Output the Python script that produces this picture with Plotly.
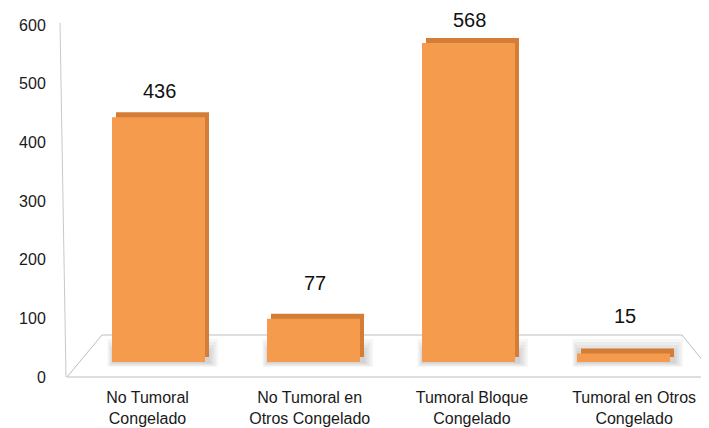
import plotly.graph_objects as go

categories = ["No Tumoral<br>Congelado", "No Tumoral en<br>Otros Congelado",
              "Tumoral Bloque<br>Congelado", "Tumoral en Otros<br>Congelado"]
values = [436, 77, 568, 15]
y_ticks = [0, 100, 200, 300, 400, 500, 600]

# target layout in screenshot pixels; the page body adds an 8px margin
OFF = 8
W, H = 709 - OFF, 428 - OFF
L, T, B = 62 - OFF, 25 - OFF, 428 - 377
R = 0
PW, PH = W - L - R, H - T - B

def px(x, y):
    # screenshot pixel -> paper coords
    return (x - OFF - L) / PW, (H - B - (y - OFF)) / PH

# bar front faces: value 0 at pixel 362, 568 at pixel 43
scale = (362 - 43) / 568
front_range = [-(377 - 362) / scale, (362 - 25) / scale]
depth = 5 / scale
back_range = [front_range[0] - depth, front_range[1] - depth]

# bars: centre of first at 158.5px, 155px apart; labels: 147.5px, 162.2px apart
bar_range = [(62 - 158.5) / 155, (709 - 158.5) / 155]
lab_range = [(62 - 147.5) / 162.2, (709 - 147.5) / 162.2]
bar_w = 0.6
dx = 4 / 155

fig = go.Figure()
# empty trace so the main subplot carrying the tick labels exists
fig.add_trace(go.Scatter(x=categories, y=[None] * len(categories), mode="markers",
                         hoverinfo="skip", showlegend=False))
fig.add_trace(go.Bar(x=categories, y=values, xaxis="x2", yaxis="y2", width=bar_w,
                     offset=-bar_w / 2 + dx, marker=dict(color="#d47d36", line=dict(width=0)),
                     hoverinfo="skip", showlegend=False))
fig.add_trace(go.Bar(x=categories, y=values, xaxis="x2", yaxis="y3", width=bar_w,
                     offset=-bar_w / 2, marker=dict(color="#f59b4d", line=dict(width=0)),
                     showlegend=False))

# value labels; short columns show more of their top face, so their label sits higher
for c, v in zip(categories, values):
    fig.add_annotation(x=c, y=v, xref="x2", yref="y3", text=str(v), showarrow=False,
                       yanchor="bottom", xshift=1, yshift=24.5 - 0.026 * v,
                       font=dict(size=20, color="#111"))

# floor of the 3D plot
p = [px(67, 377), px(102, 335), px(682, 335), px(716, 377)]
path = "M {} {} L {} {} L {} {} L {} {} Z".format(*[c for pt in p for c in pt])
fig.add_shape(type="path", path=path, xref="paper", yref="paper", layer="below",
              line=dict(color="#bdbdbd", width=1), fillcolor="white")
# back wall edge
a, b = px(60, 23), px(66, 377)
fig.add_shape(type="line", xref="paper", yref="paper", x0=a[0], y0=a[1], x1=b[0], y1=b[1],
              layer="below", line=dict(color="#c8c8c8", width=1))

# soft shadows at the bar feet
for i in range(len(categories)):
    for k in range(5):
        fig.add_shape(type="rect", xref="x2", yref="paper", layer="below",
                      x0=i - bar_w / 2 - 0.03 + 0.008 * k, x1=i + bar_w / 2 + 0.085 - 0.013 * k,
                      y0=px(0, 367 - k)[1], y1=px(0, 339 + 3 * k)[1],
                      line=dict(width=0), fillcolor="rgba(0,0,0,0.035)")

fig.update_layout(
    width=W, height=H,
    margin=dict(l=L, r=R, t=T, b=B),
    paper_bgcolor="white", plot_bgcolor="white",
    font=dict(family="Liberation Sans, Arial", color="#1a1a1a"),
    xaxis=dict(range=lab_range, showgrid=False, showline=False, zeroline=False,
               tickfont=dict(size=16), ticks="", ticklabelstandoff=9, automargin=False),
    xaxis2=dict(range=bar_range, overlaying="x", visible=False),
    yaxis=dict(range=[0, 600], tickvals=y_ticks, showgrid=False, showline=False, zeroline=False,
               tickfont=dict(size=16), ticks="outside", ticklen=12, tickcolor="rgba(0,0,0,0)",
               automargin=False),
    yaxis2=dict(range=back_range, overlaying="y", visible=False),
    yaxis3=dict(range=front_range, overlaying="y", visible=False),
)

fig.write_html("out.html")
